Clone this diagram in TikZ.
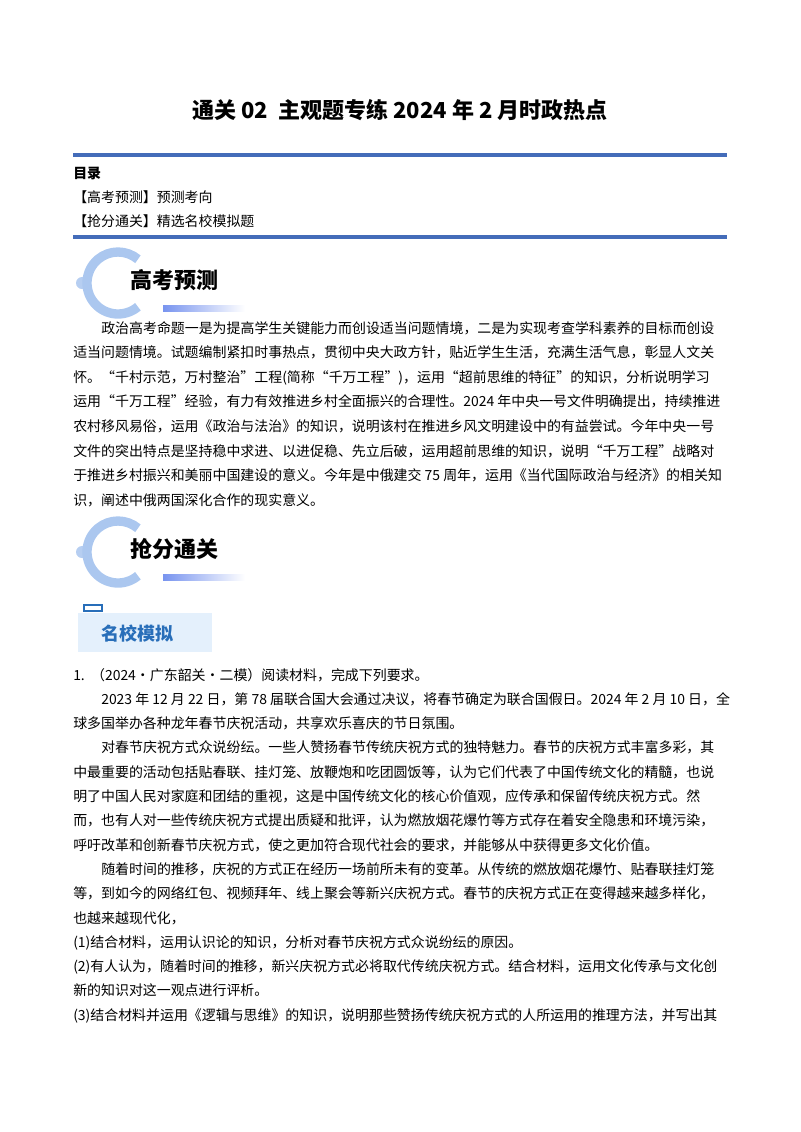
\documentclass[tikz,border=0pt]{standalone}
\usepackage{fontspec}
\setmainfont{Noto Sans CJK SC}
\usetikzlibrary{calc}
\definecolor{rule}{RGB}{68,108,185}
\definecolor{ringc}{RGB}{150,185,235}
\definecolor{boxc}{RGB}{228,240,252}
\definecolor{mx}{RGB}{40,110,185}
\tikzset{
 ln/.style={anchor=base west,inner sep=0pt,font=\fontsize{10.45pt}{12pt}\selectfont},
 hd/.style={anchor=base west,inner sep=0pt,font=\fontsize{10.45pt}{12pt}\selectfont\bfseries},
 ban/.style={anchor=west,inner sep=0pt,font=\fontsize{16.5pt}{18pt}\selectfont\bfseries},
}
\begin{document}
\begin{tikzpicture}[x=0.75pt,y=-0.75pt]
\useasboundingbox (0,0) rectangle (800,1132);
\node[anchor=center,inner sep=0pt,font=\fontsize{16.5pt}{18pt}\selectfont\bfseries] (title) at (400,110) {通关 02\ \ 主观题专练 2024 年 2 月时政热点};
\draw[rule,line width=2.4pt] (73,155) coordinate (r1a) -- (727,155) coordinate (r1b);
\node[hd] (toc) at (73,178) {目录};
\node[ln] (t1) at (73,202) {【高考预测】预测考向};
\node[ln] (t2) at (73,226) {【抢分通关】精选名校模拟题};
\draw[rule,line width=2.4pt] (73,237) coordinate (r2a) -- (727,237) coordinate (r2b);
% banners
\foreach \cy/\txt/\nm in {283/高考预测/b1,552/抢分通关/b2}{
 \fill[ringc!70] (82,\cy) circle (6);
 \draw[ringc!80,line width=7pt] ($(118,\cy)+(50:31)$) arc (50:310:31);
 \shade[left color=ringc!80!blue,right color=white] (163,\cy+22) rectangle (245,\cy+28);
 \node[ban] (\nm) at (130,\cy-3) {\txt};
}
% mingxiao box
\fill[boxc] (78,613) rectangle (212,652);
\draw[mx,line width=0.8pt,fill=white] (84,605) rectangle (102,611);
\node[anchor=west,inner sep=0pt,text=mx,font=\fontsize{13.5pt}{16pt}\selectfont\bfseries] (mx) at (101,634) {名校模拟};
% paragraph 1
\foreach \i/\x/\t in {
0/101/政治高考命题一是为提高学生关键能力而创设适当问题情境，二是为实现考查学科素养的目标而创设,
1/73/适当问题情境。试题编制紧扣时事热点，贯彻中央大政方针，贴近学生生活，充满生活气息，彰显人文关,
2/73/怀。“千村示范，万村整治”工程(简称“千万工程”)，运用“超前思维的特征”的知识，分析说明学习,
3/73/运用“千万工程”经验，有力有效推进乡村全面振兴的合理性。2024 年中央一号文件明确提出，持续推进,
4/73/农村移风易俗，运用《政治与法治》的知识，说明该村在推进乡风文明建设中的有益尝试。今年中央一号,
5/73/文件的突出特点是坚持稳中求进、以进促稳、先立后破，运用超前思维的知识，说明“千万工程”战略对,
6/73/于推进乡村振兴和美丽中国建设的意义。今年是中俄建交 75 周年，运用《当代国际政治与经济》的相关知,
7/73/识，阐述中俄两国深化合作的现实意义。}{
 \node[ln] (p\i) at (\x,333+24.6*\i) {\t};
}
% questions
\foreach \i/\x/\t in {
0/73/1.\ \ （2024·广东韶关·二模）阅读材料，完成下列要求。,
1/101/2023 年 12 月 22 日，第 78 届联合国大会通过决议，将春节确定为联合国假日。2024 年 2 月 10 日，全,
2/73/球多国举办各种龙年春节庆祝活动，共享欢乐喜庆的节日氛围。,
3/101/对春节庆祝方式众说纷纭。一些人赞扬春节传统庆祝方式的独特魅力。春节的庆祝方式丰富多彩，其,
4/73/中最重要的活动包括贴春联、挂灯笼、放鞭炮和吃团圆饭等，认为它们代表了中国传统文化的精髓，也说,
5/73/明了中国人民对家庭和团结的重视，这是中国传统文化的核心价值观，应传承和保留传统庆祝方式。然,
6/73/而，也有人对一些传统庆祝方式提出质疑和批评，认为燃放烟花爆竹等方式存在着安全隐患和环境污染，,
7/73/呼吁改革和创新春节庆祝方式，使之更加符合现代社会的要求，并能够从中获得更多文化价值。,
8/101/随着时间的推移，庆祝的方式正在经历一场前所未有的变革。从传统的燃放烟花爆竹、贴春联挂灯笼,
9/73/等，到如今的网络红包、视频拜年、线上聚会等新兴庆祝方式。春节的庆祝方式正在变得越来越多样化，,
10/73/也越来越现代化，,
11/73/(1)结合材料，运用认识论的知识，分析对春节庆祝方式众说纷纭的原因。,
12/73/(2)有人认为，随着时间的推移，新兴庆祝方式必将取代传统庆祝方式。结合材料，运用文化传承与文化创,
13/73/新的知识对这一观点进行评析。,
14/73/(3)结合材料并运用《逻辑与思维》的知识，说明那些赞扬传统庆祝方式的人所运用的推理方法，并写出其}{
 \node[ln] (q\i) at (\x,680+24.3*\i) {\t};
}
\end{tikzpicture}
\end{document}
